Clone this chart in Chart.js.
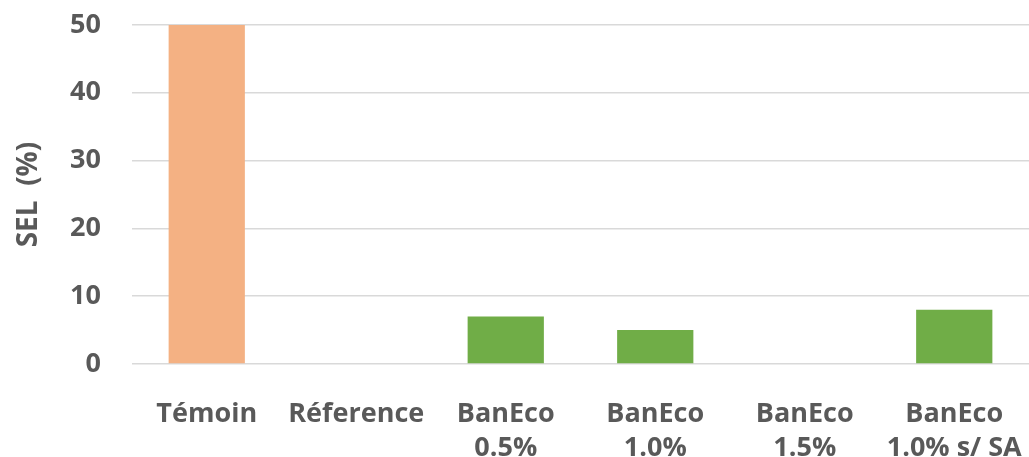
<!DOCTYPE html>
<html>
<head>
<meta charset="utf-8">
<script src="https://cdn.jsdelivr.net/npm/chart.js@4/dist/chart.umd.min.js"></script>
<style>
html,body{margin:0;padding:0;background:#fff;}
#wrap{width:1029px;height:457px;position:relative;}
</style>
</head>
<body>
<div id="wrap"><canvas id="c" width="1029" height="457"></canvas></div>
<script>
const categories = [["Témoin"], ["Réference"], ["BanEco", "0.5%"], ["BanEco", "1.0%"], ["BanEco", "1.5%"], ["BanEco", "1.0% s/ SA"]];
const selValues = [50, 0, 7, 5, 0, 8];
const barColors = ["#F4B183", "#70AD47", "#70AD47", "#70AD47", "#70AD47", "#70AD47"];
const yTicks = [0, 10, 20, 30, 40, 50];

const txt = "#595959";
const fam = "'Open Sans', Lato, sans-serif";

new Chart(document.getElementById("c"), {
  type: "bar",
  data: {
    labels: categories,
    datasets: [{
      data: selValues,
      backgroundColor: barColors,
      borderWidth: 0,
      categoryPercentage: 1.0,
      barPercentage: 0.51
    }]
  },
  options: {
    responsive: false,
    animation: false,
    layout: {padding: {top: 25, right: 0, left: 0, bottom: 0}},
    plugins: {legend: {display: false}, tooltip: {enabled: false}},
    scales: {
      x: {
        grid: {display: false},
        border: {display: false},
        afterFit: (s) => { s.height = 93; s.paddingLeft = 0; s.paddingRight = 0; s.paddingTop = 0; s.paddingBottom = 0; },
        ticks: {color: txt, font: {family: fam, weight: "bold", size: 27, lineHeight: 1.26}, padding: 25, maxRotation: 0, autoSkip: false}
      },
      y: {
        min: 0, max: 50,
        afterBuildTicks: (axis) => { axis.ticks = yTicks.map(v => ({value: v})); },
        afterFit: (s) => { s.width = 132; s.paddingLeft = 0; s.paddingRight = 0; s.paddingTop = 0; s.paddingBottom = 0; },
        grid: {color: "#D9D9D9", lineWidth: 1.5, drawTicks: false},
        border: {display: false},
        ticks: {color: txt, font: {family: fam, weight: "bold", size: 27}, padding: 31},
        title: {display: true, text: "SEL  (%)", color: txt, font: {family: fam, weight: "bold", size: 28}, padding: {top: 12, bottom: 0}}
      }
    }
  }
});
</script>
</body>
</html>
